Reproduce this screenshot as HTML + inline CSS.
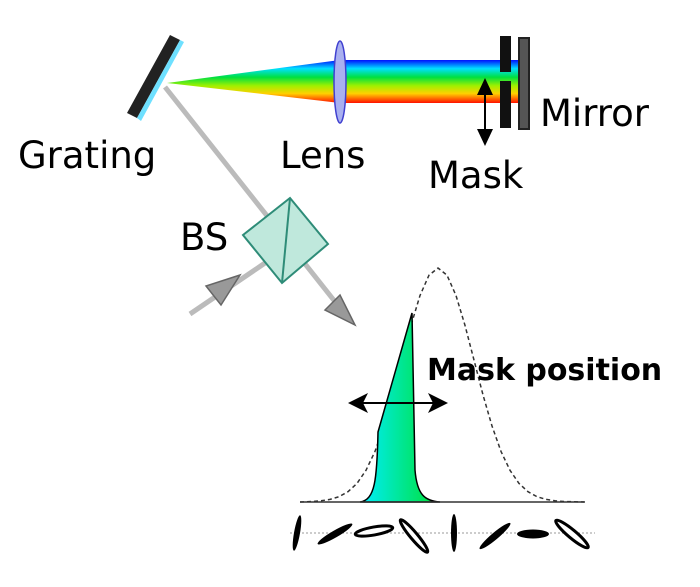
<!DOCTYPE html>
<html><head><style>body{margin:0;background:#fff}svg{display:block}text{font-family:"DejaVu Sans","Liberation Sans",sans-serif}</style></head><body>
<svg width="700" height="587" viewBox="0 0 700 587" xmlns="http://www.w3.org/2000/svg">
<defs>
<linearGradient id="rb" x1="0" y1="0" x2="0" y2="1">
<stop offset="0" stop-color="#0010ff"/><stop offset="0.2" stop-color="#00e0ff"/><stop offset="0.4" stop-color="#00e040"/><stop offset="0.6" stop-color="#a0f000"/><stop offset="0.78" stop-color="#ffd000"/><stop offset="1" stop-color="#ff1000"/>
</linearGradient>
<linearGradient id="cg" x1="0" y1="0" x2="1" y2="0"><stop offset="0" stop-color="#00eeff"/><stop offset="1" stop-color="#00e030"/></linearGradient>
</defs>
<polygon points="167,83 340,60 340,103" fill="url(#rb)"/>
<rect x="340" y="60" width="178" height="43" fill="url(#rb)"/>
<ellipse cx="340" cy="82" rx="6" ry="41" fill="#a9b0f0" stroke="#4040d0" stroke-width="1.5"/>
<rect x="500" y="36" width="11" height="36" fill="#111"/>
<rect x="500" y="81" width="11" height="47" fill="#111"/>
<rect x="519" y="38" width="10" height="91" fill="#555" stroke="#222" stroke-width="2"/>
<line x1="485" y1="90" x2="485" y2="134" stroke="#000" stroke-width="2"/>
<polygon points="485,78 477,95 493,95" fill="#000"/><polygon points="485,146 477,129 493,129" fill="#000"/>
<line x1="165" y1="87" x2="340" y2="308" stroke="#bbb" stroke-width="5"/>
<line x1="190" y1="314" x2="265" y2="263" stroke="#bbb" stroke-width="5"/>
<polygon points="290,198 328,244 282,283 243,235" fill="#bfe8dc" stroke="#2e8c78" stroke-width="2"/>
<line x1="290" y1="198" x2="282" y2="283" stroke="#2e8c78" stroke-width="2"/>
<polygon points="240,275 206,286 221,305" fill="#999" stroke="#666" stroke-width="1.5"/>
<polygon points="355,325 340,295 325,310" fill="#999" stroke="#666" stroke-width="1.5"/>
<polygon points="127,113 170,35 180,40 137,118" fill="#222"/>
<polygon points="180,40 184,42 141,121 137,118" fill="#6ee0ff"/>
<polyline points="300,502 312,501.5 321,500.8 330,499.4 339,496.7 348,491.7 357,483.4 366,470.3 375,451.4 384,426 393,394.9 402,360.1 411,325.4 420,295.5 429,275.2 438,268 447,275.2 456,295.5 465,325.4 474,360.1 483,394.9 492,426 501,451.4 510,470.3 519,483.4 528,491.7 537,496.7 546,499.4 555,500.8 564,501.5 585,502" fill="none" stroke="#333" stroke-width="1.5" stroke-dasharray="4,3" stroke-linejoin="round"/>
<path d="M360,502 C375,500 377,480 378,432 L412,313 L415,470 C417,495 425,501 440,502 Z" fill="url(#cg)" stroke="#000" stroke-width="1.5"/>
<line x1="300" y1="502" x2="584" y2="502" stroke="#333" stroke-width="1.5"/>
<line x1="358" y1="403" x2="438" y2="403" stroke="#000" stroke-width="2"/>
<polygon points="348,403 368,393 363,403 368,413" fill="#000"/><polygon points="448,403 428,393 433,403 428,413" fill="#000"/>
<text x="427" y="380" font-size="30" font-weight="bold">Mask position</text>
<line x1="290" y1="533" x2="595" y2="533" stroke="#999" stroke-width="1" stroke-dasharray="2,2"/>
<g fill="#000">
<ellipse cx="297" cy="533" rx="3" ry="18" transform="rotate(10 297 533)"/>
<ellipse cx="335" cy="534" rx="3.5" ry="20" transform="rotate(60 335 534)"/>
<ellipse cx="374" cy="531" rx="4" ry="19" fill="#fff" stroke="#000" stroke-width="3" transform="rotate(80 374 531)"/>
<ellipse cx="414" cy="536" rx="3.5" ry="21" fill="#fff" stroke="#000" stroke-width="3" transform="rotate(-40 414 536)"/>
<ellipse cx="454" cy="533" rx="3" ry="19"/>
<ellipse cx="495" cy="536" rx="3.5" ry="20" transform="rotate(50 495 536)"/>
<ellipse cx="533" cy="534" rx="4.5" ry="16" transform="rotate(90 533 534)"/>
<ellipse cx="572" cy="534" rx="4" ry="21" fill="#fff" stroke="#000" stroke-width="3" transform="rotate(-50 572 534)"/>
</g>
<text x="18" y="168" font-size="37">Grating</text>
<text x="280" y="168" font-size="37">Lens</text>
<text x="540" y="126" font-size="37">Mirror</text>
<text x="428" y="188" font-size="37">Mask</text>
<text x="180" y="250" font-size="37">BS</text>
</svg>
</body></html>
